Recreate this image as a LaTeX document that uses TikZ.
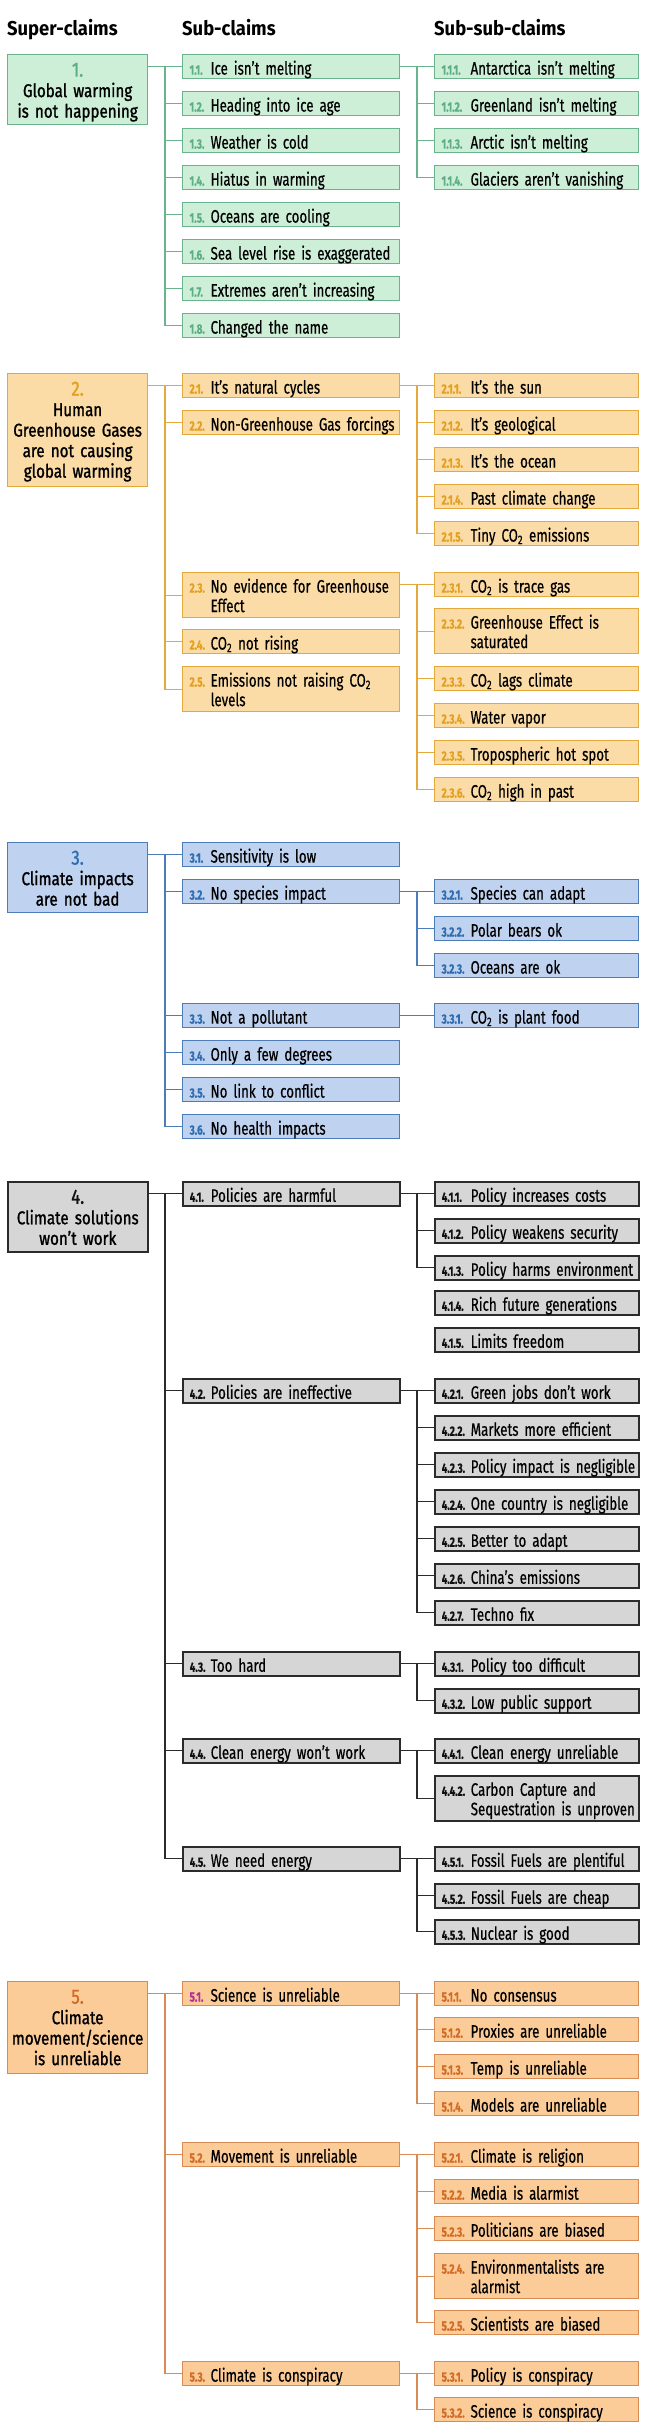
\documentclass[tikz,border=0pt]{standalone}
\usepackage{fontspec}
\setmainfont{Fira Sans}[FakeStretch=0.74,FakeBold=0.5]
\newfontfamily\medf{Fira Sans}[FakeStretch=0.82,FakeBold=1.2]
\newfontfamily\hdf{Fira Sans}[FakeStretch=0.92]
\hyphenpenalty=10000 \exhyphenpenalty=10000
\definecolor{gF}{HTML}{CDEFD8}\definecolor{gB}{HTML}{6BB38C}\definecolor{gN}{HTML}{5DAE85}
\definecolor{oF}{HTML}{FCDCA6}\definecolor{oB}{HTML}{E4A93C}\definecolor{oN}{HTML}{E2A020}
\definecolor{bF}{HTML}{BFD2F0}\definecolor{bB}{HTML}{4D7DB9}\definecolor{bN}{HTML}{2F6DB0}
\definecolor{kF}{HTML}{D6D6D6}\definecolor{kB}{HTML}{2B2B2B}\definecolor{kN}{HTML}{111111}
\definecolor{pF}{HTML}{FBCB98}\definecolor{pB}{HTML}{D88B52}\definecolor{pN}{HTML}{D06C25}\definecolor{mN}{HTML}{B62F96}
\newcommand\numf{\fontsize{13.5}{14}\selectfont\bfseries}
\newcommand\Lsub[3]{\mbox{\makebox[21pt][l]{\numf\textcolor{#1}{#2}}#3}}
\newcommand\Lssub[3]{\mbox{\makebox[29pt][l]{\numf\textcolor{#1}{#2}}#3}}
\newcommand\twoA[2]{\parbox[t]{190pt}{#1\\#2}}
\newcommand\twoB[2]{\parbox[t]{170pt}{#1\\#2}}
\newcommand\supn[2]{{\fontsize{20.5}{20.5}\selectfont\textcolor{#1}{#2}}}
\newcommand\cotwo{CO\textsubscript{2}}
\tikzset{
  bx/.style={draw, rectangle, anchor=north west, inner xsep=7pt, inner ysep=3pt,
    text height=17pt, text depth=1pt, line width=1.2pt, align=left,
    font=\fontsize{18}{19.5}\selectfont},
  sb/.style={bx, minimum width=217pt, text width=203pt},
  ssb/.style={bx, minimum width=204pt, text width=190pt},
  tw/.style={text depth=22pt},
  sup/.style={bx, minimum width=140pt, text width=134pt, inner xsep=3pt, align=center,
    text height=19pt, font=\medf\fontsize{18.5}{20.5}\selectfont},
  gs/.style={draw=gB, fill=gF}, os/.style={draw=oB, fill=oF}, bs/.style={draw=bB, fill=bF},
  ks/.style={draw=kB, fill=kF, line width=1.5pt}, ps/.style={draw=pB, fill=pF},
  cg/.style={draw=gB, line width=1.2pt}, co/.style={draw=oB, line width=1.2pt},
  cb/.style={draw=bB, line width=1.2pt}, ck/.style={draw=kB, line width=1.4pt},
  cp/.style={draw=pB, line width=1.2pt},
  hd/.style={anchor=base west, inner sep=0pt, font=\hdf\bfseries\fontsize{20}{22}\selectfont}
}
\begin{document}
\begin{tikzpicture}[x=1pt,y=-1pt]
\useasboundingbox (0,0) rectangle (645,2436);
\fill[white] (0,0) rectangle (645,2436);
\coordinate (sA) at (165,0);
\coordinate (sB) at (417,0);
% headers
\node[hd] (h1) at (7,35) {Super-claims};
\node[hd] (h2) at (182,35) {Sub-claims};
\node[hd] (h3) at (434,35) {Sub-sub-claims};
% ---------------- section 1
\node[sup,gs,text depth=45pt] (S1) at (7,54) {\supn{gN}{1.}\\Global warming\\is not happening};
\node[sb,gs] (n11) at (182,54) {\Lsub{gN}{1.1.}{Ice isn’t melting}};
\node[sb,gs] (n12) at (182,91) {\Lsub{gN}{1.2.}{Heading into ice age}};
\node[sb,gs] (n13) at (182,128) {\Lsub{gN}{1.3.}{Weather is cold}};
\node[sb,gs] (n14) at (182,165) {\Lsub{gN}{1.4.}{Hiatus in warming}};
\node[sb,gs] (n15) at (182,202) {\Lsub{gN}{1.5.}{Oceans are cooling}};
\node[sb,gs] (n16) at (182,239) {\Lsub{gN}{1.6.}{Sea level rise is exaggerated}};
\node[sb,gs] (n17) at (182,276) {\Lsub{gN}{1.7.}{Extremes aren’t increasing}};
\node[sb,gs] (n18) at (182,313) {\Lsub{gN}{1.8.}{Changed the name}};
\node[ssb,gs] (n111) at (434,54) {\Lssub{gN}{1.1.1.}{Antarctica isn’t melting}};
\node[ssb,gs] (n112) at (434,91) {\Lssub{gN}{1.1.2.}{Greenland isn’t melting}};
\node[ssb,gs] (n113) at (434,128) {\Lssub{gN}{1.1.3.}{Arctic isn’t melting}};
\node[ssb,gs] (n114) at (434,165) {\Lssub{gN}{1.1.4.}{Glaciers aren’t vanishing}};
\draw[cg] (S1.east |- n11.west) -- (n11.west);
\draw[cg] (sA |- n11.west) |- (n18.west);
\foreach \c in {n12,n13,n14,n15,n16,n17} \draw[cg] (sA |- \c.west) -- (\c.west);
\draw[cg] (n11.east) -- (n111.west);
\draw[cg] (sB |- n111.west) |- (n114.west);
\foreach \c in {n112,n113} \draw[cg] (sB |- \c.west) -- (\c.west);
% ---------------- section 2
\node[sup,os,text depth=88pt] (S2) at (7,373) {\supn{oN}{2.}\\Human\\Greenhouse Gases\\are not causing\\global warming};
\node[sb,os] (n21) at (182,373) {\Lsub{oN}{2.1.}{It’s natural cycles}};
\node[sb,os] (n22) at (182,410) {\Lsub{oN}{2.2.}{Non-Greenhouse Gas forcings}};
\node[sb,os,tw] (n23) at (182,572) {\Lsub{oN}{2.3.}{\twoA{No evidence for Greenhouse}{Effect}}};
\node[sb,os] (n24) at (182,629) {\Lsub{oN}{2.4.}{\cotwo{} not rising}};
\node[sb,os,tw] (n25) at (182,666) {\Lsub{oN}{2.5.}{\twoA{Emissions not raising \cotwo}{levels}}};
\node[ssb,os] (n211) at (434,373) {\Lssub{oN}{2.1.1.}{It’s the sun}};
\node[ssb,os] (n212) at (434,410) {\Lssub{oN}{2.1.2.}{It’s geological}};
\node[ssb,os] (n213) at (434,447) {\Lssub{oN}{2.1.3.}{It’s the ocean}};
\node[ssb,os] (n214) at (434,484) {\Lssub{oN}{2.1.4.}{Past climate change}};
\node[ssb,os] (n215) at (434,521) {\Lssub{oN}{2.1.5.}{Tiny \cotwo{} emissions}};
\node[ssb,os] (n231) at (434,572) {\Lssub{oN}{2.3.1.}{\cotwo{} is trace gas}};
\node[ssb,os,tw] (n232) at (434,608) {\Lssub{oN}{2.3.2.}{\twoB{Greenhouse Effect is}{saturated}}};
\node[ssb,os] (n233) at (434,666) {\Lssub{oN}{2.3.3.}{\cotwo{} lags climate}};
\node[ssb,os] (n234) at (434,703) {\Lssub{oN}{2.3.4.}{Water vapor}};
\node[ssb,os] (n235) at (434,740) {\Lssub{oN}{2.3.5.}{Tropospheric hot spot}};
\node[ssb,os] (n236) at (434,777) {\Lssub{oN}{2.3.6.}{\cotwo{} high in past}};
\draw[co] (S2.east |- n21.west) -- (n21.west);
\draw[co] (sA |- n21.west) |- (n25.west);
\foreach \c in {n22,n23,n24} \draw[co] (sA |- \c.west) -- (\c.west);
\draw[co] (n21.east) -- (n211.west);
\draw[co] (sB |- n211.west) |- (n215.west);
\foreach \c in {n212,n213,n214} \draw[co] (sB |- \c.west) -- (\c.west);
\draw[co] (n23.east |- n231.west) -- (n231.west);
\draw[co] (sB |- n231.west) |- (n236.west);
\foreach \c in {n232,n233,n234,n235} \draw[co] (sB |- \c.west) -- (\c.west);
% ---------------- section 3
\node[sup,bs,text depth=45pt] (S3) at (7,842) {\supn{bN}{3.}\\Climate impacts\\are not bad};
\node[sb,bs] (n31) at (182,842) {\Lsub{bN}{3.1.}{Sensitivity is low}};
\node[sb,bs] (n32) at (182,879) {\Lsub{bN}{3.2.}{No species impact}};
\node[sb,bs] (n33) at (182,1003) {\Lsub{bN}{3.3.}{Not a pollutant}};
\node[sb,bs] (n34) at (182,1040) {\Lsub{bN}{3.4.}{Only a few degrees}};
\node[sb,bs] (n35) at (182,1077) {\Lsub{bN}{3.5.}{No link to conflict}};
\node[sb,bs] (n36) at (182,1114) {\Lsub{bN}{3.6.}{No health impacts}};
\node[ssb,bs] (n321) at (434,879) {\Lssub{bN}{3.2.1.}{Species can adapt}};
\node[ssb,bs] (n322) at (434,916) {\Lssub{bN}{3.2.2.}{Polar bears ok}};
\node[ssb,bs] (n323) at (434,953) {\Lssub{bN}{3.2.3.}{Oceans are ok}};
\node[ssb,bs] (n331) at (434,1003) {\Lssub{bN}{3.3.1.}{\cotwo{} is plant food}};
\draw[cb] (S3.east |- n31.west) -- (n31.west);
\draw[cb] (sA |- n31.west) |- (n36.west);
\foreach \c in {n32,n33,n34,n35} \draw[cb] (sA |- \c.west) -- (\c.west);
\draw[cb] (n32.east) -- (n321.west);
\draw[cb] (sB |- n321.west) |- (n323.west);
\draw[cb] (sB |- n322.west) -- (n322.west);
\draw[cb] (n33.east) -- (n331.west);
% ---------------- section 4
\node[sup,ks,text depth=45pt] (S4) at (7,1181) {\supn{kN}{4.}\\Climate solutions\\won’t work};
\node[sb,ks] (n41) at (182,1181) {\Lsub{kN}{4.1.}{Policies are harmful}};
\node[sb,ks] (n42) at (182,1378) {\Lsub{kN}{4.2.}{Policies are ineffective}};
\node[sb,ks] (n43) at (182,1651) {\Lsub{kN}{4.3.}{Too hard}};
\node[sb,ks] (n44) at (182,1738) {\Lsub{kN}{4.4.}{Clean energy won’t work}};
\node[sb,ks] (n45) at (182,1846) {\Lsub{kN}{4.5.}{We need energy}};
\node[ssb,ks] (n411) at (434,1181) {\Lssub{kN}{4.1.1.}{Policy increases costs}};
\node[ssb,ks] (n412) at (434,1218) {\Lssub{kN}{4.1.2.}{Policy weakens security}};
\node[ssb,ks] (n413) at (434,1255) {\Lssub{kN}{4.1.3.}{Policy harms environment}};
\node[ssb,ks] (n414) at (434,1290) {\Lssub{kN}{4.1.4.}{Rich future generations}};
\node[ssb,ks] (n415) at (434,1327) {\Lssub{kN}{4.1.5.}{Limits freedom}};
\node[ssb,ks] (n421) at (434,1378) {\Lssub{kN}{4.2.1.}{Green jobs don’t work}};
\node[ssb,ks] (n422) at (434,1415) {\Lssub{kN}{4.2.2.}{Markets more efficient}};
\node[ssb,ks] (n423) at (434,1452) {\Lssub{kN}{4.2.3.}{Policy impact is negligible}};
\node[ssb,ks] (n424) at (434,1489) {\Lssub{kN}{4.2.4.}{One country is negligible}};
\node[ssb,ks] (n425) at (434,1526) {\Lssub{kN}{4.2.5.}{Better to adapt}};
\node[ssb,ks] (n426) at (434,1563) {\Lssub{kN}{4.2.6.}{China’s emissions}};
\node[ssb,ks] (n427) at (434,1600) {\Lssub{kN}{4.2.7.}{Techno fix}};
\node[ssb,ks] (n431) at (434,1651) {\Lssub{kN}{4.3.1.}{Policy too difficult}};
\node[ssb,ks] (n432) at (434,1688) {\Lssub{kN}{4.3.2.}{Low public support}};
\node[ssb,ks] (n441) at (434,1738) {\Lssub{kN}{4.4.1.}{Clean energy unreliable}};
\node[ssb,ks,tw] (n442) at (434,1775) {\Lssub{kN}{4.4.2.}{\twoB{Carbon Capture and}{Sequestration is unproven}}};
\node[ssb,ks] (n451) at (434,1846) {\Lssub{kN}{4.5.1.}{Fossil Fuels are plentiful}};
\node[ssb,ks] (n452) at (434,1883) {\Lssub{kN}{4.5.2.}{Fossil Fuels are cheap}};
\node[ssb,ks] (n453) at (434,1919) {\Lssub{kN}{4.5.3.}{Nuclear is good}};
\draw[ck] (S4.east |- n41.west) -- (n41.west);
\draw[ck] (sA |- n41.west) |- (n45.west);
\foreach \c in {n42,n43,n44} \draw[ck] (sA |- \c.west) -- (\c.west);
\draw[ck] (n41.east) -- (n411.west);
\draw[ck] (sB |- n411.west) |- (n413.west);
\draw[ck] (sB |- n412.west) -- (n412.west);
\draw[ck] (n42.east) -- (n421.west);
\draw[ck] (sB |- n421.west) |- (n427.west);
\foreach \c in {n422,n423,n424,n425,n426} \draw[ck] (sB |- \c.west) -- (\c.west);
\draw[ck] (n43.east) -- (n431.west);
\draw[ck] (sB |- n431.west) |- (n432.west);
\draw[ck] (n44.east) -- (n441.west);
\draw[ck] (sB |- n441.west) |- (n442.west);
\draw[ck] (n45.east) -- (n451.west);
\draw[ck] (sB |- n451.west) |- (n453.west);
\draw[ck] (sB |- n452.west) -- (n452.west);
% ---------------- section 5
\node[sup,ps,text depth=67pt] (S5) at (7,1981) {\supn{pN}{5.}\\Climate\\movement/science\\is unreliable};
\node[sb,ps] (n51) at (182,1981) {\Lsub{mN}{5.1.}{Science is unreliable}};
\node[sb,ps] (n52) at (182,2142) {\Lsub{pN}{5.2.}{Movement is unreliable}};
\node[sb,ps] (n53) at (182,2361) {\Lsub{pN}{5.3.}{Climate is conspiracy}};
\node[ssb,ps] (n511) at (434,1981) {\Lssub{pN}{5.1.1.}{No consensus}};
\node[ssb,ps] (n512) at (434,2017) {\Lssub{pN}{5.1.2.}{Proxies are unreliable}};
\node[ssb,ps] (n513) at (434,2054) {\Lssub{pN}{5.1.3.}{Temp is unreliable}};
\node[ssb,ps] (n514) at (434,2091) {\Lssub{pN}{5.1.4.}{Models are unreliable}};
\node[ssb,ps] (n521) at (434,2142) {\Lssub{pN}{5.2.1.}{Climate is religion}};
\node[ssb,ps] (n522) at (434,2179) {\Lssub{pN}{5.2.2.}{Media is alarmist}};
\node[ssb,ps] (n523) at (434,2216) {\Lssub{pN}{5.2.3.}{Politicians are biased}};
\node[ssb,ps,tw] (n524) at (434,2253) {\Lssub{pN}{5.2.4.}{\twoB{Environmentalists are}{alarmist}}};
\node[ssb,ps] (n525) at (434,2310) {\Lssub{pN}{5.2.5.}{Scientists are biased}};
\node[ssb,ps] (n531) at (434,2361) {\Lssub{pN}{5.3.1.}{Policy is conspiracy}};
\node[ssb,ps] (n532) at (434,2397) {\Lssub{pN}{5.3.2.}{Science is conspiracy}};
\draw[cp] (S5.east |- n51.west) -- (n51.west);
\draw[cp] (sA |- n51.west) |- (n53.west);
\draw[cp] (sA |- n52.west) -- (n52.west);
\draw[cp] (n51.east) -- (n511.west);
\draw[cp] (sB |- n511.west) |- (n514.west);
\foreach \c in {n512,n513} \draw[cp] (sB |- \c.west) -- (\c.west);
\draw[cp] (n52.east) -- (n521.west);
\draw[cp] (sB |- n521.west) |- (n525.west);
\foreach \c in {n522,n523,n524} \draw[cp] (sB |- \c.west) -- (\c.west);
\draw[cp] (n53.east) -- (n531.west);
\draw[cp] (sB |- n531.west) |- (n532.west);
\end{tikzpicture}
\end{document}
